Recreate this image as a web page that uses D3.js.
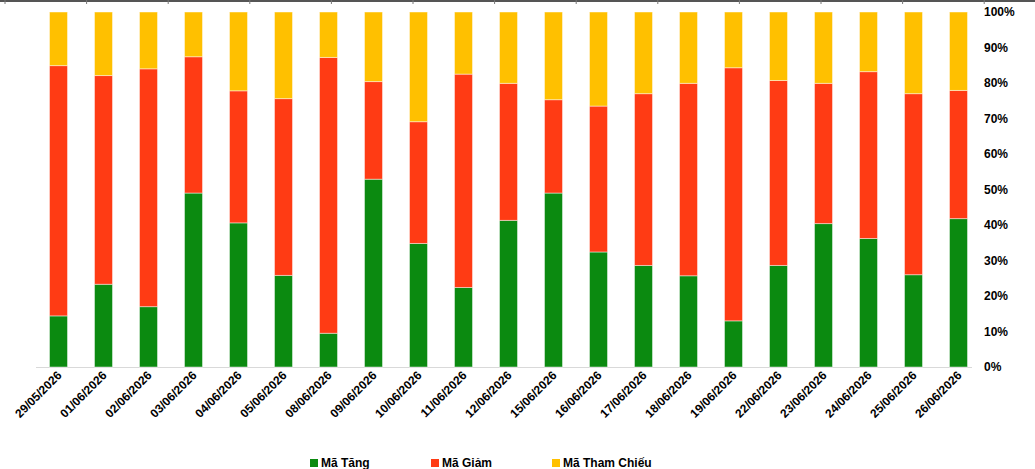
<!DOCTYPE html>
<html>
<head>
<meta charset="utf-8">
<script src="https://cdn.jsdelivr.net/npm/d3@7"></script>
<style>
  body { margin: 0; background: #fff; }
  svg { display: block; font-family: "Liberation Sans", Arial, sans-serif; }
</style>
</head>
<body>
<div id="chart"></div>
<script>
// dates on the x axis
const dates = ["29/05/2026","01/06/2026","02/06/2026","03/06/2026","04/06/2026","05/06/2026",
  "08/06/2026","09/06/2026","10/06/2026","11/06/2026","12/06/2026","15/06/2026","16/06/2026",
  "17/06/2026","18/06/2026","19/06/2026","22/06/2026","23/06/2026","24/06/2026","25/06/2026","26/06/2026"];

// share of tickers (%)
const maTang     = [14.4,23.3,17.0,49.0,40.6,25.8, 9.5,52.9,34.8,22.4,41.3,49.0,32.4,28.6,25.7,13.0,28.6,40.4,36.2,26.0,41.8];
const maGiam     = [70.5,58.8,67.0,38.4,37.2,49.8,77.7,27.5,34.3,60.1,38.6,26.3,41.1,48.4,54.2,71.3,52.1,39.5,47.0,51.0,36.1];
const maThamChieu= [15.1,17.9,16.0,12.6,22.2,24.4,12.8,19.6,30.9,17.5,20.1,24.7,26.5,23.0,20.1,15.7,19.3,20.1,16.8,23.0,22.1];

const seriesNames = ["Mã Tăng", "Mã Giảm", "Mã Tham Chiếu"];
const yTicks = [0,0.1,0.2,0.3,0.4,0.5,0.6,0.7,0.8,0.9,1];

const W = 1035, H = 469;
const colors = d3.scaleOrdinal().domain(seriesNames).range(["#0b8a10", "#ff3b14", "#ffc000"]);

// build rows for the stack
const rows = dates.map((d, i) => ({
  date: d,
  "Mã Tăng": maTang[i],
  "Mã Giảm": maGiam[i],
  "Mã Tham Chiếu": maThamChieu[i]
}));

const stacked = d3.stack()
  .keys(seriesNames)
  .offset(d3.stackOffsetExpand)(rows);

const x = d3.scaleBand()
  .domain(dates)
  .range([36, 981])
  .paddingInner(0.6)
  .paddingOuter(0.3);

const y = d3.scaleLinear()
  .domain([0, 1])
  .range([367, 12]);

const svg = d3.select("#chart").append("svg")
  .attr("width", W)
  .attr("height", H);

// dark strip along the top edge
const topBar = svg.append("g");
topBar.append("rect")
  .attr("x", 0).attr("y", 0)
  .attr("width", W).attr("height", 2)
  .attr("fill", "#555");
topBar.selectAll("line")
  .data(d3.range(5, W, 81.6))
  .enter().append("line")
  .attr("x1", d => d).attr("x2", d => d)
  .attr("y1", 0).attr("y2", 4)
  .attr("stroke", "#777")
  .attr("stroke-width", 1);

// baseline
svg.append("line")
  .attr("x1", 36).attr("x2", 972)
  .attr("y1", y(0) + 0.5).attr("y2", y(0) + 0.5)
  .attr("stroke", "#d9d9d9")
  .attr("stroke-width", 1);

// bars
const layer = svg.selectAll(".layer")
  .data(stacked)
  .enter().append("g")
  .attr("class", "layer")
  .attr("fill", d => colors(d.key));

layer.selectAll("rect")
  .data(d => d)
  .enter().append("rect")
  .attr("x", d => x(d.data.date))
  .attr("y", d => y(d[1]))
  .attr("width", x.bandwidth())
  .attr("height", d => y(d[0]) - y(d[1]))
  .attr("stroke", "#fff")
  .attr("stroke-opacity", 0.45)
  .attr("stroke-width", 1);

// y axis on the right
const yAxis = svg.append("g")
  .attr("transform", "translate(982,0)")
  .call(d3.axisRight(y).tickValues(yTicks).tickFormat(d3.format(".0%")).tickSize(0).tickPadding(2));
yAxis.select(".domain").remove();
yAxis.selectAll("text")
  .attr("font-family", "Liberation Sans, Arial, sans-serif")
  .attr("font-size", 12)
  .attr("font-weight", "bold")
  .attr("fill", "#000");

// x labels, rotated
svg.append("g")
  .selectAll("text")
  .data(dates)
  .enter().append("text")
  .attr("transform", d => `translate(${x(d) + x.bandwidth() / 2 + 4},${y(0) + 9}) rotate(-45)`)
  .attr("text-anchor", "end")
  .attr("font-size", 12)
  .attr("font-weight", "bold")
  .attr("fill", "#000")
  .text(d => d);

// legend
const legendX = [310, 431, 552];
const legend = svg.append("g")
  .selectAll("g")
  .data(seriesNames)
  .enter().append("g")
  .attr("transform", (d, i) => `translate(${legendX[i]},459)`);
legend.append("rect")
  .attr("width", 8).attr("height", 8)
  .attr("fill", d => colors(d));
legend.append("text")
  .attr("x", 11).attr("y", 8)
  .attr("font-size", 12)
  .attr("font-weight", "bold")
  .attr("fill", "#000")
  .text(d => d);
</script>
</body>
</html>
